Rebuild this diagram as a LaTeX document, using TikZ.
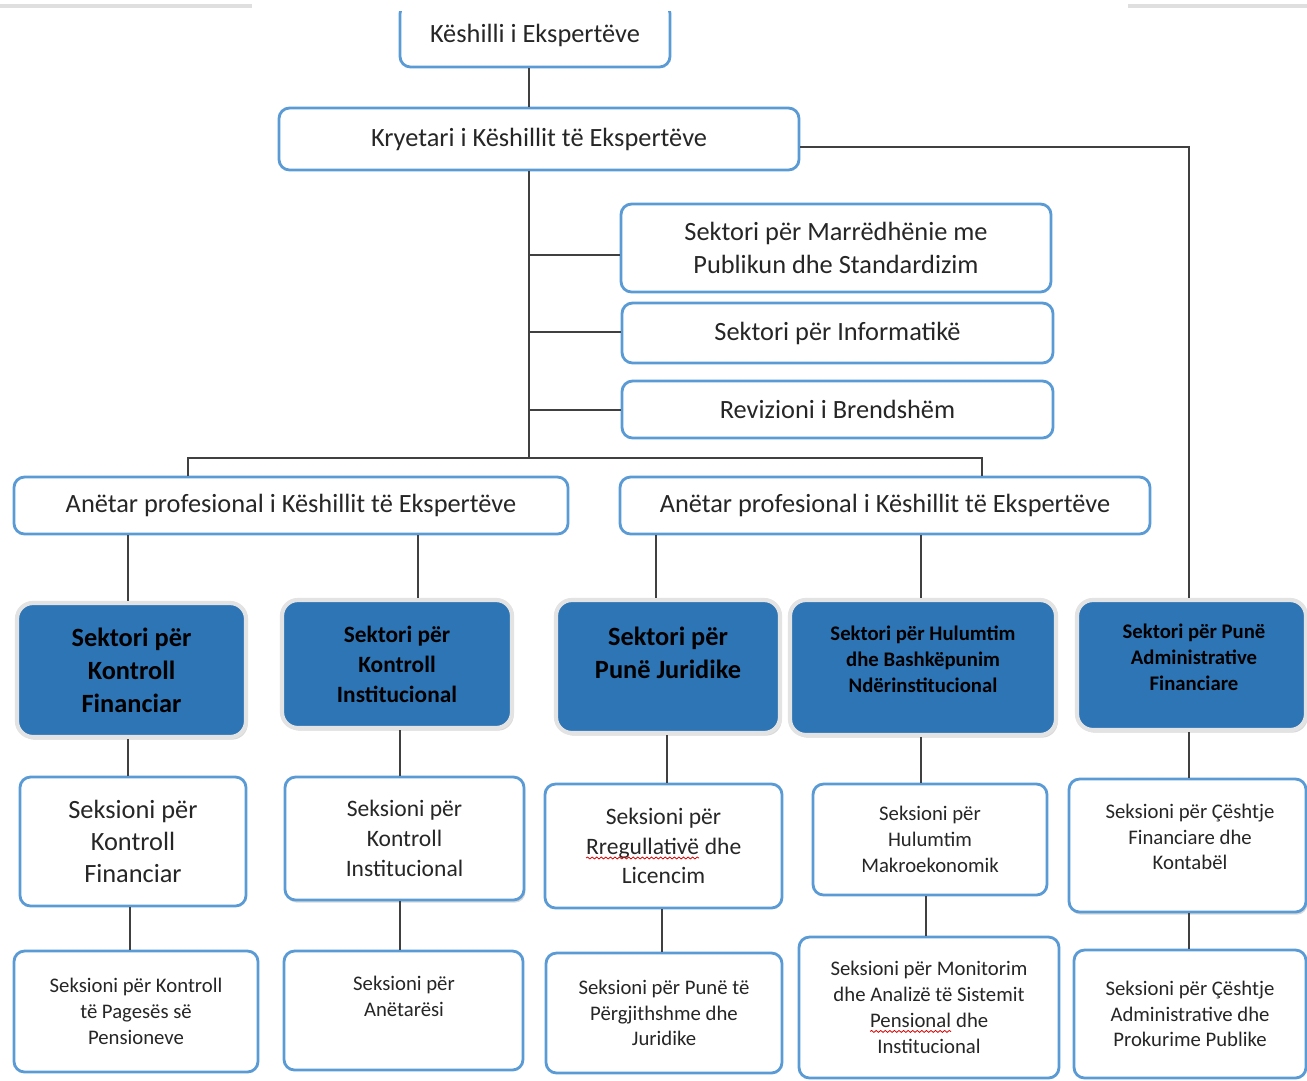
\documentclass[tikz,border=0pt]{standalone}
\usepackage{fontspec}
\setmainfont{Carlito}
\usetikzlibrary{positioning,shadows,decorations.pathmorphing}

\definecolor{boxblue}{RGB}{91,155,213}
\definecolor{fillblue}{RGB}{46,117,182}
\definecolor{linegray}{RGB}{64,64,64}

% wavy spell-check underline
\newcommand\squig[1]{\tikz[baseline=0pt]{\node[shape=rectangle,draw=none,fill=none,inner sep=0pt,outer sep=0pt,minimum width=0pt,minimum height=0pt,anchor=base] (sq) at (0,0) {#1};\draw[red!85!black,line width=0.45pt,sharp corners,decorate,decoration={snake,amplitude=0.55pt,segment length=2.6pt}] ([yshift=-2.2pt]sq.base west) -- ([yshift=-2.2pt]sq.base east);}}

\tikzset{
 conn/.style={draw=linegray, line width=1.1pt},
 wbox/.style={draw=boxblue, line width=1.6pt, fill=white, rounded corners=6pt, align=center, text=black!85, inner sep=0pt},
 bbox/.style={draw=gray!22, line width=2.4pt, fill=fillblue, rounded corners=9pt, align=center, text=black, inner sep=0pt, drop shadow={opacity=0.3,shadow xshift=1pt,shadow yshift=-1.5pt}},
 shd/.style={drop shadow={opacity=0.3,shadow xshift=0.8pt,shadow yshift=-1.5pt}},
 sz/.style 2 args={minimum width=#1*0.02cm, minimum height=#2*0.02cm},
 big/.style={font=\fontsize{15}{18.4}\selectfont},
 mid/.style={font=\fontsize{13.4}{17}\selectfont},
 small/.style={font=\fontsize{11.8}{14.7}\selectfont},
 bigb/.style={font=\fontsize{15}{18.7}\selectfont\bfseries},
 midb/.style={font=\fontsize{13.3}{17}\selectfont\bfseries},
 smallb/.style={font=\fontsize{11.8}{14.7}\selectfont\bfseries},
 txt/.style={align=center, inner sep=0pt},
}

\begin{document}
\begin{tikzpicture}[x=0.02cm, y=-0.02cm]
 \useasboundingbox (0,0) rectangle (1307,1080);
 \draw[gray!25, line width=1.8pt] (0,6) -- (252,6);
 \draw[gray!25, line width=1.8pt] (1128,6) -- (1307,6);

 % top of the chart
 \begin{scope}
  \clip (0,11) rectangle (1307,1080);
  \node[wbox, big, sz={270}{64}] (ke) at (535,35) {Këshilli i Ekspertëve};
 \end{scope}
 \node[wbox, big, sz={520}{62}] (kr) at (539,139) {Kryetari i Këshillit të Ekspertëve};

 \node[wbox, big, sz={430}{88}] (mp) at (836,248) {Sektori për Marrëdhënie me\\Publikun dhe Standardizim};
 \node[wbox, big, sz={431}{60}] (inf) at (837.5,333) {Sektori për Informatikë};
 \node[wbox, big, sz={431}{57}] (rev) at (837.5,409.5) {Revizioni i Brendshëm};

 \node[wbox, big, sz={554}{57}] (an1) at (291,505.5) {Anëtar profesional i Këshillit të Ekspertëve};
 \node[wbox, big, sz={530}{57}] (an2) at (885,505.5) {Anëtar profesional i Këshillit të Ekspertëve};

 % sectors
 \node[bbox, bigb, sz={229}{134}] (kf) at (131.5,670) {Sektori për\\Kontroll\\Financiar};
 \node[bbox, midb, sz={230}{128}] (ki) at (397,664) {Sektori për\\Kontroll\\Institucional};
 \node[bbox, sz={224}{133}] (pj) at (668,666.5) {};
 \node[txt, bigb] (pj-t) at (668,653) {Sektori për\\Punë Juridike};
 \node[bbox, sz={266}{135}] (hb) at (923,667.5) {};
 \node[txt, smallb] (hb-t) at (923,659) {Sektori për Hulumtim\\dhe Bashkëpunim\\Ndërinstitucional};
 \node[bbox, sz={229}{130}] (pa) at (1191.5,665) {};
 \node[txt, smallb] (pa-t) at (1194,657.5) {Sektori për Punë\\Administrative\\Financiare};

 % sections
 \node[wbox, big, sz={226}{129}] (skf) at (133,841.5) {Seksioni për\\Kontroll\\Financiar};
 \node[wbox, mid, shd, sz={239}{123}] (ski) at (404.5,838.5) {Seksioni për\\Kontroll\\Institucional};
 \node[wbox, mid, sz={237}{124}] (srl) at (663.5,846) {Seksioni për\\\squig{Rregullativë} dhe\\Licencim};
 \node[wbox, small, sz={234}{111}] (shm) at (930,839.5) {Seksioni për\\Hulumtim\\Makroekonomik};
 \node[wbox, shd, sz={237}{133}] (scf) at (1187.5,845.5) {};
 \node[txt, small, text=black!85] (scf-t) at (1190,837) {Seksioni për Çështje\\Financiare dhe\\Kontabël};

 \node[wbox, small, sz={244}{121}] (spk) at (136,1011.5) {Seksioni për Kontroll\\të Pagesës së\\Pensioneve};
 \node[wbox, sz={239}{119}] (san) at (403.5,1010.5) {};
 \node[txt, small, text=black!85] (san-t) at (404,996) {Seksioni për\\Anëtarësi};
 \node[wbox, small, sz={236}{120}] (spp) at (664,1013) {Seksioni për Punë të\\Përgjithshme dhe\\Juridike};
 \node[wbox, small, sz={260}{141}] (smo) at (929,1007.5) {Seksioni për Monitorim\\dhe Analizë të Sistemit\\\squig{Pensional} dhe\\Institucional};
 \node[wbox, small, sz={232}{128}] (sca) at (1190,1014) {Seksioni për Çështje\\Administrative dhe\\Prokurime Publike};

 % connectors
 \draw[conn] (ke.south -| 529,0) -- (kr.north -| 529,0);
 \draw[conn] (kr.south -| 529,0) -- (529,458);
 \foreach \n/\y in {mp/255, inf/332, rev/410}
  \draw[conn] (529,\y) -- (\n.west |- 0,\y);
 \draw[conn] (an1.north -| 188,0) |- (982,458) -- (an2.north -| 982,0);
 \draw[conn] (kr.east |- 0,147) -| (pa.north -| 1189,0);
 \foreach \a/\b/\x in {an1/kf/128, an1/ki/418, an2/pj/656, an2/hb/921,
   kf/skf/128, skf/spk/130, ki/ski/400, ski/san/400, pj/srl/667,
   srl/spp/662, hb/shm/921, shm/smo/926, pa/scf/1189, scf/sca/1189}
  \draw[conn] (\a.south -| \x,0) -- (\b.north -| \x,0);
\end{tikzpicture}
\end{document}
